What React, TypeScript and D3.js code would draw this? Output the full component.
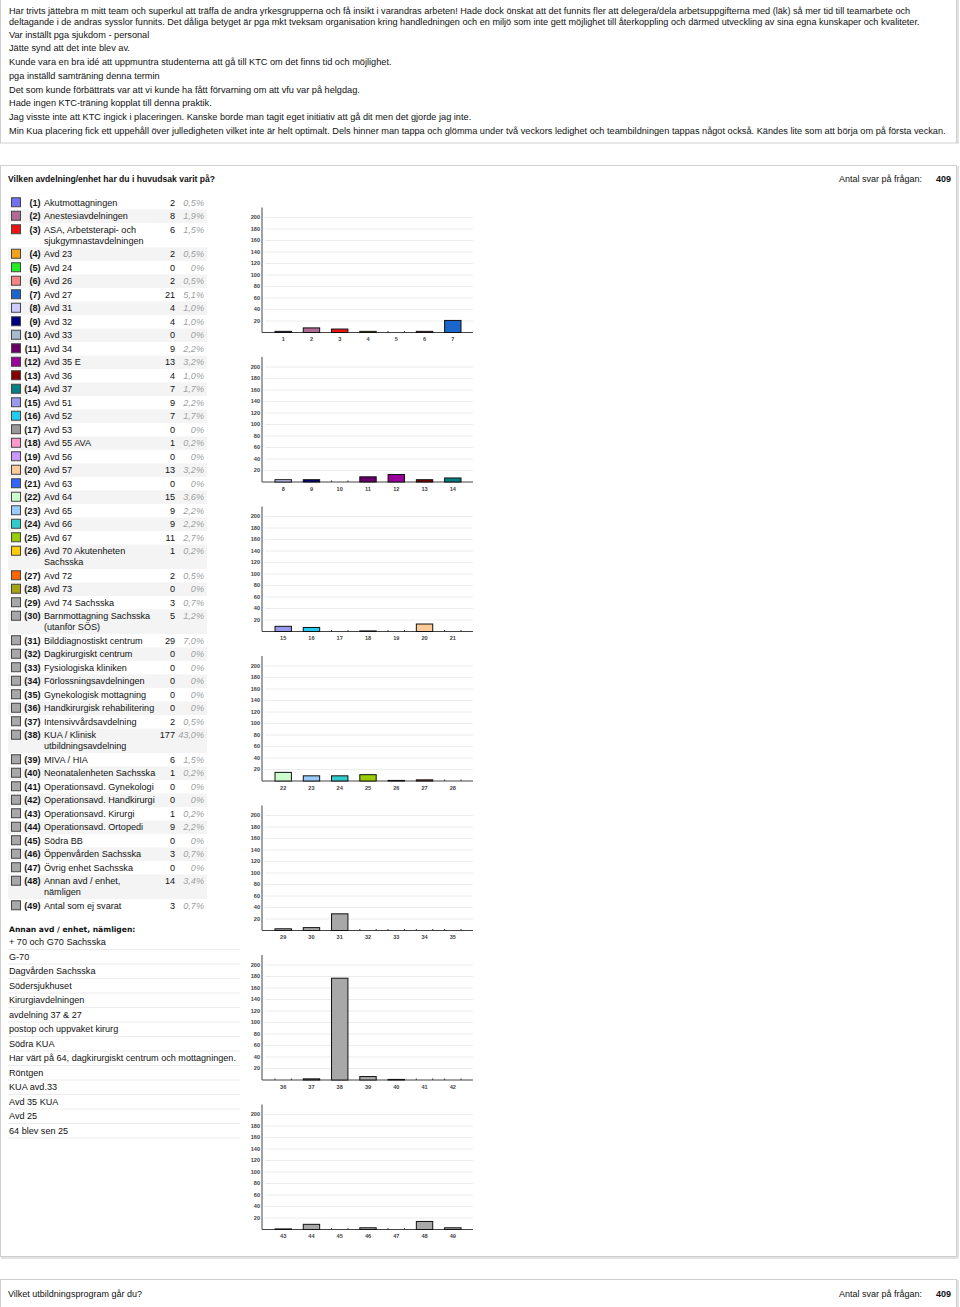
import React from "react";
import * as d3 from "d3";

const commentLines: string[] = [
  "Har trivts jättebra m mitt team och superkul att träffa de andra yrkesgrupperna och få insikt i varandras arbeten! Hade dock önskat att det funnits fler att delegera/dela arbetsuppgifterna med (läk) så mer tid till teamarbete och",
  "deltagande i de andras sysslor funnits. Det dåliga betyget är pga mkt tveksam organisation kring handledningen och en miljö som inte gett möjlighet till återkoppling och därmed utveckling av sina egna kunskaper och kvaliteter.",
];
const comments: string[] = [
  "Var inställt pga sjukdom - personal",
  "Jätte synd att det inte blev av.",
  "Kunde vara en bra idé att uppmuntra studenterna att gå till KTC om det finns tid och möjlighet.",
  "pga inställd samträning denna termin",
  "Det som kunde förbättrats var att vi kunde ha fått förvarning om att vfu var på helgdag.",
  "Hade ingen KTC-träning kopplat till denna praktik.",
  "Jag visste inte att KTC ingick i placeringen. Kanske borde man tagit eget initiativ att gå dit men det gjorde jag inte.",
  "Min Kua placering fick ett uppehåll över julledigheten vilket inte är helt optimalt. Dels hinner man tappa och glömma under två veckors ledighet och teambildningen tappas något också. Kändes lite som att börja om på första veckan.",
];

const questionTitle = "Vilken avdelning/enhet har du i huvudsak varit på?";
const answerCountLabel = "Antal svar på frågan:";
const answerCount = "409";
const nextQuestionTitle = "Vilket utbildningsprogram går du?";

const categoryCodes: string[] = [
  "1","2","3","4","5","6","7","8","9","10","11","12","13","14","15","16","17","18","19","20","21","22","23","24","25",
  "26","27","28","29","30","31","32","33","34","35","36","37","38","39","40","41","42","43","44","45","46","47","48","49",
];
const categoryNames: string[] = [
  "Akutmottagningen",
  "Anestesiavdelningen",
  "ASA, Arbetsterapi- och\nsjukgymnastavdelningen",
  "Avd 23",
  "Avd 24",
  "Avd 26",
  "Avd 27",
  "Avd 31",
  "Avd 32",
  "Avd 33",
  "Avd 34",
  "Avd 35 E",
  "Avd 36",
  "Avd 37",
  "Avd 51",
  "Avd 52",
  "Avd 53",
  "Avd 55 AVA",
  "Avd 56",
  "Avd 57",
  "Avd 63",
  "Avd 64",
  "Avd 65",
  "Avd 66",
  "Avd 67",
  "Avd 70 Akutenheten\nSachsska",
  "Avd 72",
  "Avd 73",
  "Avd 74 Sachsska",
  "Barnmottagning Sachsska\n(utanför SÖS)",
  "Bilddiagnostiskt centrum",
  "Dagkirurgiskt centrum",
  "Fysiologiska kliniken",
  "Förlossningsavdelningen",
  "Gynekologisk mottagning",
  "Handkirurgisk rehabilitering",
  "Intensivvårdsavdelning",
  "KUA / Klinisk\nutbildningsavdelning",
  "MIVA / HIA",
  "Neonatalenheten Sachsska",
  "Operationsavd. Gynekologi",
  "Operationsavd. Handkirurgi",
  "Operationsavd. Kirurgi",
  "Operationsavd. Ortopedi",
  "Södra BB",
  "Öppenvården Sachsska",
  "Övrig enhet Sachsska",
  "Annan avd / enhet,\nnämligen",
  "Antal som ej svarat",
];
const counts: number[] = [
  2, 8, 6, 2, 0, 2, 21, 4, 4, 0, 9, 13, 4, 7, 9, 7, 0, 1, 0, 13, 0, 15, 9, 9, 11,
  1, 2, 0, 3, 5, 29, 0, 0, 0, 0, 0, 2, 177, 6, 1, 0, 0, 1, 9, 0, 3, 0, 14, 3,
];
const percents: string[] = [
  "0,5%","1,9%","1,5%","0,5%","0%","0,5%","5,1%","1,0%","1,0%","0%","2,2%","3,2%","1,0%","1,7%","2,2%","1,7%","0%","0,2%","0%","3,2%","0%","3,6%","2,2%","2,2%","2,7%",
  "0,2%","0,5%","0%","0,7%","1,2%","7,0%","0%","0%","0%","0%","0%","0,5%","43,0%","1,5%","0,2%","0%","0%","0,2%","2,2%","0%","0,7%","0%","3,4%","0,7%",
];
const colors: string[] = [
  "#7272ee","#b06c94","#ee1414","#f4a21c","#22ee22","#f48484","#1a66cc","#ccccff","#000080","#a4bccc",
  "#660066","#990099","#800000","#008080","#9999ee","#22ccee","#999999","#ff99cc","#cc99ff","#ffcc99",
  "#3366ff","#ccffcc","#99ccff","#33cccc","#99cc00","#ffcc00","#ff6600","#a4a414","#a8a8a8","#a8a8a8",
  "#a8a8a8","#a8a8a8","#a8a8a8","#a8a8a8","#a8a8a8","#a8a8a8","#a8a8a8","#a8a8a8","#a8a8a8","#a8a8a8",
  "#a8a8a8","#a8a8a8","#a8a8a8","#a8a8a8","#a8a8a8","#a8a8a8","#a8a8a8","#a8a8a8","#a8a8a8",
];

const otherTitle = "Annan avd / enhet, nämligen:";
const otherAnswers: string[] = [
  "+ 70 och G70 Sachsska",
  "G-70",
  "Dagvården Sachsska",
  "Södersjukhuset",
  "Kirurgiavdelningen",
  "avdelning 37 & 27",
  "postop och uppvaket kirurg",
  "Södra KUA",
  "Har värt på 64, dagkirurgiskt centrum och mottagningen.",
  "Röntgen",
  "KUA avd.33",
  "Avd 35 KUA",
  "Avd 25",
  "64 blev sen 25",
];

const yTicks: number[] = [20, 40, 60, 80, 100, 120, 140, 160, 180, 200];
const perChart = 7;

const FONT = "'Liberation Sans', Arial, Helvetica, sans-serif";

function Chart({ idx }: { idx: number }) {
  const base = 332.5 + idx * 149.5;
  const items = categoryCodes.slice(idx * perChart, idx * perChart + perChart).map((c, i) => ({
    code: c,
    value: counts[idx * perChart + i],
    color: colors[idx * perChart + i],
  }));
  const x = d3.scaleBand<string>().domain(items.map((d) => d.code)).range([275, 461]).paddingInner(0.42).paddingOuter(0);
  const y = d3.scaleLinear().domain([0, 200]).range([base, base - 115]);
  const axisLeft = 262;
  const axisRight = 473;
  return (
    <g>
      {yTicks.map((t) => (
        <g key={t}>
          <line x1={axisLeft + 3} x2={axisRight} y1={y(t)} y2={y(t)} stroke="#ececec" strokeWidth={1} />
          <text x={260} y={y(t)} dy="0.35em" textAnchor="end" fontSize={5.6} fontWeight="bold" fill="#444" fontFamily={FONT}>
            {t}
          </text>
        </g>
      ))}
      <line x1={axisLeft} x2={axisLeft} y1={base - 125} y2={base} stroke="#444" strokeWidth={1} />
      <line x1={axisLeft} x2={axisRight} y1={base} y2={base} stroke="#444" strokeWidth={1} />
      {items.map((d) => {
        const x0 = x(d.code) as number;
        const w = x.bandwidth();
        return (
          <g key={d.code}>
            {d.value > 0 ? (
              <rect x={x0} y={y(d.value)} width={w} height={base - y(d.value)} fill={d.color} stroke="#111" strokeWidth={1} />
            ) : (
              <g>
                <line x1={x0} x2={x0} y1={base - 1.5} y2={base} stroke="#333" />
                <line x1={x0 + w} x2={x0 + w} y1={base - 1.5} y2={base} stroke="#333" />
              </g>
            )}
            <text x={x0 + w / 2} y={base + 7} dy="0.35em" textAnchor="middle" fontSize={5.6} fontWeight="bold" fill="#444" fontFamily={FONT}>
              {d.code}
            </text>
          </g>
        );
      })}
    </g>
  );
}

export default function App() {
  let cursor = 196;
  const rows = categoryNames.map((n, i) => {
    const lines = n.split("\n");
    const h = 13.5 + (lines.length - 1) * 11;
    const r = { i, top: cursor, h, lines };
    cursor += h;
    return r;
  });

  return (
    <svg width={960} height={1307} style={{ position: "absolute", left: 0, top: 0, background: "#fff" }} fontFamily={FONT}>
      {/* Top panel */}
      <rect x={0.5} y={-5} width={956} height={148} fill="#fff" stroke="#cfcfcf" />
      <line x1={958} x2={958} y1={0} y2={144} stroke="#e2e2e2" strokeWidth={2} />
      {commentLines.map((t, i) => (
        <text key={"c" + i} x={9} y={10.5 + i * 11.3} dy="0.35em" fontSize={9.15} fill="#111">
          {t}
        </text>
      ))}
      {comments.map((t, i) => (
        <text key={"cm" + i} x={9} y={34.5 + i * 13.75} dy="0.35em" fontSize={9.2} fill="#111">
          {t}
        </text>
      ))}

      {/* Main panel */}
      <rect x={0.5} y={165.5} width={956} height={1091} fill="#fff" stroke="#cfcfcf" />
      <line x1={958} x2={958} y1={166} y2={1258} stroke="#e2e2e2" strokeWidth={2} />
      <line x1={1} x2={958} y1={1258} y2={1258} stroke="#e2e2e2" strokeWidth={2} />
      <text x={8} y={178.5} dy="0.35em" fontSize={8.6} fontWeight="bold" fill="#111">
        {questionTitle}
      </text>
      <text x={922} y={178.5} dy="0.35em" fontSize={9} textAnchor="end" fill="#111">
        {answerCountLabel}
      </text>
      <text x={951} y={178.5} dy="0.35em" fontSize={9} textAnchor="end" fontWeight="bold" fill="#111">
        {answerCount}
      </text>

      {/* Legend table */}
      {rows.map((r) => {
        const c = r.top + 6.75;
        return (
          <g key={"r" + r.i}>
            {r.i % 2 === 1 && <rect x={8} y={r.top} width={199} height={r.h} fill="#f4f4f4" />}
            <rect x={11.5} y={c - 5} width={9} height={9} fill={colors[r.i]} stroke="#444" strokeWidth={1} />
            <text x={40.5} y={c} dy="0.35em" fontSize={9.1} fontWeight="bold" textAnchor="end" fill="#111">
              {"(" + categoryCodes[r.i] + ")"}
            </text>
            {r.lines.map((l, k) => (
              <text key={k} x={44} y={c + k * 11} dy="0.35em" fontSize={9.1} fill="#111">
                {l}
              </text>
            ))}
            <text x={175} y={c} dy="0.35em" fontSize={9.1} textAnchor="end" fill="#111">
              {counts[r.i]}
            </text>
            <text x={204} y={c} dy="0.35em" fontSize={9.1} textAnchor="end" fontStyle="italic" fill="#a0a0a0">
              {percents[r.i]}
            </text>
          </g>
        );
      })}

      {/* Other answers */}
      <text x={9} y={929.5} dy="0.35em" fontSize={7.6} fontWeight="bold" fill="#111" fontFamily="'DejaVu Sans', Verdana, sans-serif">
        {otherTitle}
      </text>
      {otherAnswers.map((t, i) => (
        <g key={"o" + i}>
          <text x={9} y={942.3 + i * 14.5} dy="0.35em" fontSize={9.1} fill="#111">
            {t}
          </text>
          <line x1={8} x2={240} y1={942.3 + i * 14.5 + 7.2} y2={942.3 + i * 14.5 + 7.2} stroke="#ececec" />
        </g>
      ))}

      {/* Charts */}
      {[0, 1, 2, 3, 4, 5, 6].map((k) => (
        <Chart key={k} idx={k} />
      ))}

      {/* Next panel */}
      <rect x={0.5} y={1279.5} width={956} height={40} fill="#fff" stroke="#cfcfcf" />
      <line x1={958} x2={958} y1={1280} y2={1307} stroke="#e2e2e2" strokeWidth={2} />
      <text x={8} y={1293.5} dy="0.35em" fontSize={9} fill="#111">
        {nextQuestionTitle}
      </text>
      <text x={922} y={1293.5} dy="0.35em" fontSize={9} textAnchor="end" fill="#111">
        {answerCountLabel}
      </text>
      <text x={951} y={1293.5} dy="0.35em" fontSize={9} textAnchor="end" fontWeight="bold" fill="#111">
        {answerCount}
      </text>
    </svg>
  );
}
